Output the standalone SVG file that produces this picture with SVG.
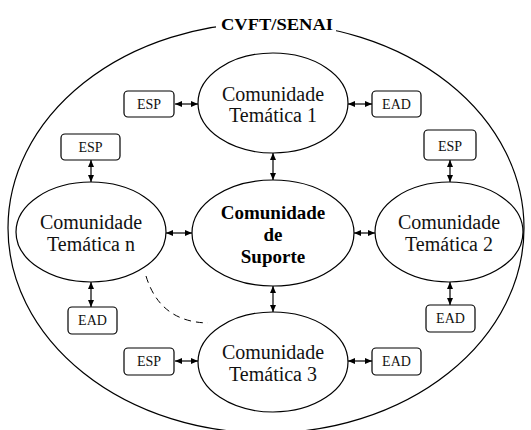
<svg xmlns="http://www.w3.org/2000/svg" width="531" height="430" viewBox="0 0 531 430">
<defs>
<marker id="ah" markerUnits="userSpaceOnUse" markerWidth="8" markerHeight="6" refX="7" refY="3" orient="auto-start-reverse">
<path d="M0,0 L7,3 L0,6 z" fill="#000"/>
</marker>
<style>
.el{fill:#fff;stroke:#000;stroke-width:1.2}
.bx{fill:#fff;stroke:#000;stroke-width:1.2}
.t{font-family:"Liberation Serif","Times New Roman",serif;font-size:20px;fill:#111;text-anchor:middle}
.tb{font-family:"Liberation Serif","Times New Roman",serif;font-size:19px;font-weight:bold;fill:#000;text-anchor:middle}
.s{font-family:"Liberation Serif","Times New Roman",serif;font-size:14px;fill:#111;text-anchor:middle}
.c{stroke:#000;stroke-width:1.2;fill:none;marker-start:url(#ah);marker-end:url(#ah)}
</style>
</defs>
<rect width="531" height="430" fill="#fff"/>
<g id="outer">
<ellipse cx="266" cy="228" rx="258" ry="205" fill="none" stroke="#000" stroke-width="1.2"/>
<rect x="216" y="14" width="120" height="20" fill="#fff"/>
<text x="277" y="30" font-family="Liberation Serif, Times New Roman, serif" font-size="16.5" font-weight="bold" text-anchor="middle" textLength="112" lengthAdjust="spacingAndGlyphs">CVFT/SENAI</text>
</g>
<g id="connectors">
<line class="c" x1="175" y1="104" x2="198" y2="104"/>
<line class="c" x1="348" y1="104" x2="372" y2="104"/>
<line class="c" x1="273" y1="153" x2="273" y2="180"/>
<line class="c" x1="166" y1="233" x2="192" y2="233"/>
<line class="c" x1="354" y1="233" x2="375" y2="233"/>
<line class="c" x1="91" y1="160" x2="91" y2="182"/>
<line class="c" x1="91" y1="282" x2="91" y2="307"/>
<line class="c" x1="450" y1="160" x2="450" y2="182"/>
<line class="c" x1="450" y1="282" x2="450" y2="305"/>
<line class="c" x1="273" y1="286" x2="273" y2="312"/>
<line class="c" x1="175" y1="361" x2="198" y2="361"/>
<line class="c" x1="348" y1="361" x2="372" y2="361"/>
<path d="M146,276 Q160,322 208,323" fill="none" stroke="#000" stroke-width="1" stroke-dasharray="7,5"/>
</g>
<g id="ct1">
<ellipse class="el" cx="273" cy="103" rx="75" ry="50"/>
<text class="t" x="273" y="101">Comunidade</text>
<text class="t" x="273" y="122">Temática 1</text>
</g>
<g id="suporte">
<ellipse class="el" cx="273" cy="233" rx="81" ry="53"/>
<text class="tb" x="273" y="219">Comunidade</text>
<text class="tb" x="273" y="241">de</text>
<text class="tb" x="273" y="263">Suporte</text>
</g>
<g id="ctn">
<ellipse class="el" cx="91" cy="232" rx="75" ry="50"/>
<text class="t" x="91" y="229">Comunidade</text>
<text class="t" x="91" y="251">Temática n</text>
</g>
<g id="ct2">
<ellipse class="el" cx="449" cy="232" rx="74" ry="50"/>
<text class="t" x="449" y="229">Comunidade</text>
<text class="t" x="449" y="251">Temática 2</text>
</g>
<g id="ct3">
<ellipse class="el" cx="273" cy="362" rx="75" ry="50"/>
<text class="t" x="273" y="359">Comunidade</text>
<text class="t" x="273" y="381">Temática 3</text>
</g>
<g id="esp1"><rect class="bx" x="124" y="91" width="50" height="26" rx="4"/><text class="s" x="149" y="109">ESP</text></g>
<g id="ead1"><rect class="bx" x="372" y="91" width="49" height="26" rx="4"/><text class="s" x="396.5" y="109">EAD</text></g>
<g id="espn"><rect class="bx" x="61" y="134" width="59" height="26" rx="4"/><text class="s" x="90.5" y="152">ESP</text></g>
<g id="eadn"><rect class="bx" x="68" y="307" width="49" height="27" rx="4"/><text class="s" x="92.5" y="325">EAD</text></g>
<g id="esp2"><rect class="bx" x="424" y="130" width="52" height="30" rx="4"/><text class="s" x="450" y="151">ESP</text></g>
<g id="ead2"><rect class="bx" x="426" y="305" width="49" height="27" rx="4"/><text class="s" x="450.5" y="323">EAD</text></g>
<g id="esp3"><rect class="bx" x="124" y="348" width="50" height="27" rx="4"/><text class="s" x="149" y="366">ESP</text></g>
<g id="ead3"><rect class="bx" x="372" y="348" width="49" height="27" rx="4"/><text class="s" x="396.5" y="366">EAD</text></g>
</svg>
